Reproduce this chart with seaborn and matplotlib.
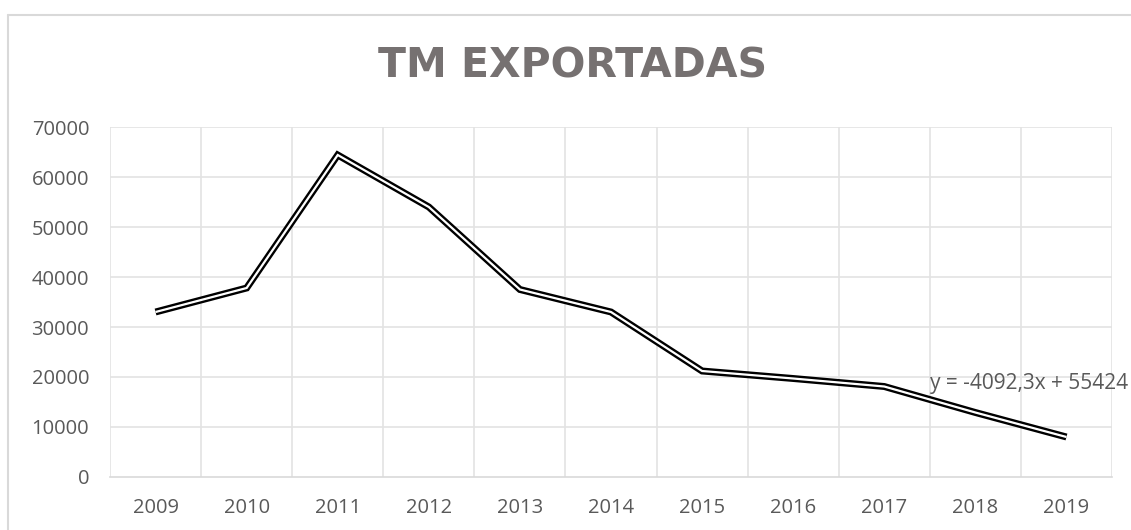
import matplotlib
matplotlib.use("Agg")
import matplotlib.pyplot as plt
import seaborn as sns
import pandas as pd
from matplotlib.lines import Line2D

years = ["2009", "2010", "2011", "2012", "2013", "2014", "2015", "2016", "2017", "2018", "2019"]
tm = [33000, 37800, 64400, 54000, 37500, 33000, 21200, 19700, 18100, 12900, 8000]
yticks = [0, 10000, 20000, 30000, 40000, 50000, 60000, 70000]
title = "TM EXPORTADAS"
equation = "y = -4092,3x + 55424"

sns.set_theme(style="white")
plt.rcParams['font.family'] = ['Open Sans', 'DejaVu Sans']

df = pd.DataFrame({"idx": range(len(years)), "tm": tm})

fig = plt.figure(figsize=(11.31, 5.30), dpi=100)
ax = fig.add_axes([110/1131, 1-477/530, (1112-110)/1131, (477-127)/530])

sns.lineplot(data=df, x="idx", y="tm", ax=ax, color="black", linewidth=5.0,
             solid_joinstyle="miter", solid_capstyle="butt", zorder=3)
sns.lineplot(data=df, x="idx", y="tm", ax=ax, color="white", linewidth=1.6,
             solid_joinstyle="miter", solid_capstyle="butt", zorder=4)

ax.set_xlim(-0.5, len(years) - 0.5)
ax.set_ylim(0, 70000)
ax.set_yticks(yticks)
ax.set_yticklabels([str(v) for v in yticks])
ax.set_xticks(range(len(years)))
ax.set_xticklabels(years)
ax.set_xlabel("")
ax.set_ylabel("")

grid_c = "#e3e3e3"
for v in yticks[1:]:
    ax.axhline(v, color=grid_c, linewidth=1.2, zorder=1)
for k in range(1, len(years)):
    ax.axvline(k - 0.5, color=grid_c, linewidth=1.2, zorder=1)
ax.axvline(-0.5, color=grid_c, linewidth=1.2, zorder=1)
ax.axvline(len(years) - 0.5, color=grid_c, linewidth=1.2, zorder=1)

for s in ["top", "right", "left"]:
    ax.spines[s].set_visible(False)
ax.spines["bottom"].set_color("#d9d9d9")
ax.spines["bottom"].set_linewidth(1.2)

ax.tick_params(axis="both", length=0, labelsize=14.5, labelcolor="#595959")
ax.tick_params(axis="x", pad=15)
ax.tick_params(axis="y", pad=15)

ax.text(8.5, 18800, equation, fontsize=15, color="#595959", va="center",
        ha="left", clip_on=False, zorder=5)

fig.text(573/1131, 1-67/530, title, ha="center", va="center", fontsize=29.5,
         fontweight="bold", color="#767171", family=["DejaVu Sans"])

fig.add_artist(Line2D([8/1131, 8/1131], [0, 1-15/530], color="#d9d9d9", linewidth=1.5,
                      transform=fig.transFigure))
fig.add_artist(Line2D([8/1131, 1], [1-15/530, 1-15/530], color="#d9d9d9", linewidth=1.5,
                      transform=fig.transFigure))

fig.savefig("out.png", dpi=100)
